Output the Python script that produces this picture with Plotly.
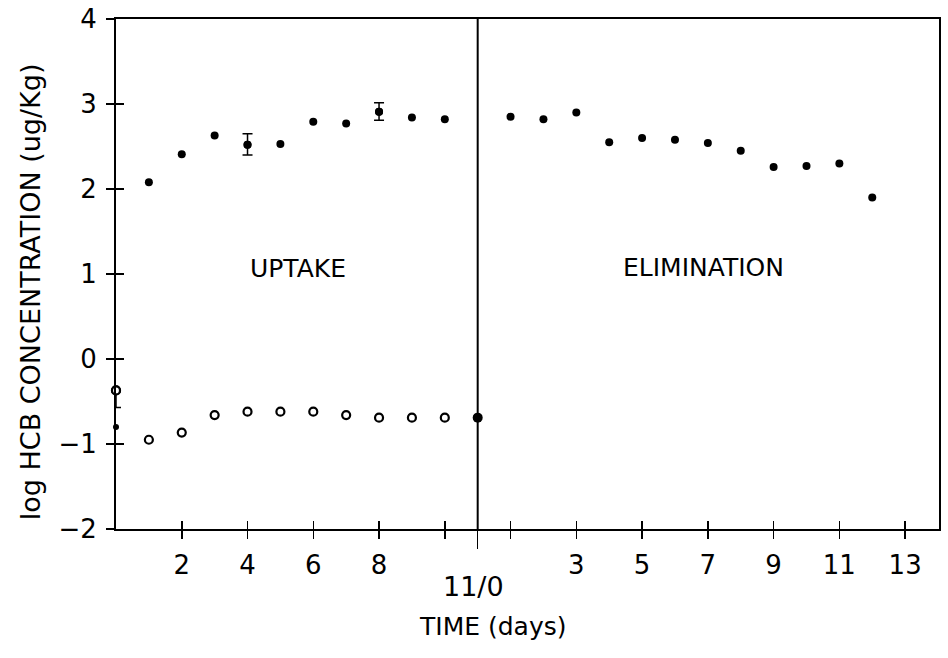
import plotly.graph_objects as go

# ---------------- data ----------------
UPTAKE_DAYS = 11  # length of uptake phase (elimination day 0 == uptake day 11)

uptake_days = [0, 1, 2, 3, 4, 5, 6, 7, 8, 9, 10]
fish_uptake = [-0.80, 2.08, 2.41, 2.63, 2.52, 2.53, 2.79, 2.77, 2.91, 2.84, 2.82]
fish_uptake_err_plus = [None, None, None, None, 0.13, None, None, None, 0.105, None, None]
fish_uptake_err_minus = [None, None, None, None, 0.12, None, None, None, 0.10, None, None]

water_days = [0, 1, 2, 3, 4, 5, 6, 7, 8, 9, 10]
water_conc = [-0.37, -0.95, -0.865, -0.66, -0.62, -0.62, -0.62, -0.66, -0.69, -0.69, -0.69]
water_err_plus = [0, None, None, None, None, None, None, None, None, None, None]
water_err_minus = [0.20, None, None, None, None, None, None, None, None, None, None]

switch_day = [11]
switch_conc = [-0.69]

elim_days = [1, 2, 3, 4, 5, 6, 7, 8, 9, 10, 11, 12]
fish_elim = [2.85, 2.82, 2.90, 2.55, 2.60, 2.58, 2.54, 2.45, 2.26, 2.27, 2.30, 1.90]

x_tickvals = [2, 4, 6, 8, 10, 11, 12, 14, 16, 18, 20, 22, 24]
x_ticktext = ["2", "4", "6", "8", "", "", "", "3", "5", "7", "9", "11", "13"]
y_tickvals = [-2, -1, 0, 1, 2, 3, 4]
y_ticktext = ["\u22122", "\u22121", "0", "1", "2", "3", "4"]

X_RANGE = [0, 25.03]
Y_RANGE = [-2, 4]

FONT = "DejaVu Sans"


def with_errors(xs, ys, plus, minus):
    idx = [i for i in range(len(xs)) if plus[i] is not None or minus[i] is not None]
    return ([xs[i] for i in idx], [ys[i] for i in idx],
            [plus[i] or 0 for i in idx], [minus[i] or 0 for i in idx])


# ---------------- figure ----------------
fig = go.Figure()

err_style = dict(type="data", symmetric=False, color="black", thickness=1.5, width=5)
filled = dict(color="black", size=8, line=dict(width=0))
opened = dict(color="white", size=8, line=dict(color="black", width=2.2))

# error bars (drawn first, beneath markers)
ex, ey, ep, em = with_errors(uptake_days, fish_uptake, fish_uptake_err_plus, fish_uptake_err_minus)
fig.add_trace(go.Scatter(
    x=ex, y=ey, mode="markers", marker=filled,
    error_y=dict(array=ep, arrayminus=em, **err_style),
    cliponaxis=False, showlegend=False,
))
wx, wy, wp, wm = with_errors(water_days, water_conc, water_err_plus, water_err_minus)
fig.add_trace(go.Scatter(
    x=wx, y=wy, mode="markers", marker=opened,
    error_y=dict(array=wp, arrayminus=wm, **err_style),
    cliponaxis=False, showlegend=False,
))

# day-0 fish value (small dot on the axis) and the rest of the uptake phase
fig.add_trace(go.Scatter(
    x=uptake_days[:1], y=fish_uptake[:1], mode="markers",
    marker=dict(color="black", size=6, line=dict(width=0)),
    cliponaxis=False, showlegend=False,
))
fig.add_trace(go.Scatter(
    x=uptake_days[1:], y=fish_uptake[1:], mode="markers", marker=filled,
    cliponaxis=False, showlegend=False,
))

fig.add_trace(go.Scatter(
    x=water_days, y=water_conc, mode="markers", marker=opened,
    cliponaxis=False, showlegend=False,
))

fig.add_trace(go.Scatter(
    x=switch_day, y=switch_conc, mode="markers",
    marker=dict(color="black", size=10, line=dict(width=0)),
    cliponaxis=False, showlegend=False,
))

fig.add_trace(go.Scatter(
    x=[d + UPTAKE_DAYS for d in elim_days], y=fish_elim, mode="markers", marker=filled,
    cliponaxis=False, showlegend=False,
))

# empty traces to instantiate overlay tick axes
fig.add_trace(go.Scatter(x=[], y=[], xaxis="x2", yaxis="y", showlegend=False))
fig.add_trace(go.Scatter(x=[], y=[], xaxis="x3", yaxis="y", showlegend=False))
fig.add_trace(go.Scatter(x=[], y=[], xaxis="x", yaxis="y2", showlegend=False))

# divider between uptake and elimination phases
fig.add_shape(type="line", xref="x", yref="y",
              x0=UPTAKE_DAYS, x1=UPTAKE_DAYS, y0=Y_RANGE[0], y1=Y_RANGE[1],
              line=dict(color="black", width=2))

tick_font = dict(family=FONT, size=26, color="black")
common = dict(showgrid=False, zeroline=False, automargin=False)

fig.update_layout(
    template="none",
    width=948, height=658,
    margin=dict(l=116, r=9, t=19, b=129),
    paper_bgcolor="white", plot_bgcolor="white",
    font=dict(family=FONT, color="black"),
    showlegend=False,
    hovermode=False,
    xaxis=dict(
        range=X_RANGE, **common,
        showline=True, linecolor="black", linewidth=2, mirror=True,
        ticks="outside", ticklen=8, tickwidth=1.5, tickcolor="black",
        tickmode="array", tickvals=x_tickvals, ticktext=x_ticktext,
        tickfont=tick_font, ticklabelstandoff=4, ticklabeloverflow="allow",
    ),
    xaxis2=dict(
        range=X_RANGE, overlaying="x", anchor="y", side="bottom", **common,
        showline=False,
        ticks="inside", ticklen=8, tickwidth=1.5, tickcolor="black",
        tickmode="array", tickvals=x_tickvals, showticklabels=False,
    ),
    xaxis3=dict(
        range=X_RANGE, overlaying="x", anchor="y", side="bottom", **common,
        showline=False,
        ticks="outside", ticklen=19, tickwidth=1.5, tickcolor="black",
        tickmode="array", tickvals=[UPTAKE_DAYS], showticklabels=False,
    ),
    yaxis=dict(
        range=Y_RANGE, **common,
        showline=True, linecolor="black", linewidth=2, mirror=True,
        ticks="outside", ticklen=8, tickwidth=1.5, tickcolor="black",
        tickmode="array", tickvals=y_tickvals, ticktext=y_ticktext,
        tickfont=tick_font, ticklabelstandoff=4, ticklabeloverflow="allow",
    ),
    yaxis2=dict(
        range=Y_RANGE, overlaying="y", anchor="x", side="left", **common,
        showline=False,
        ticks="inside", ticklen=8, tickwidth=1.5, tickcolor="black",
        tickmode="array", tickvals=y_tickvals, showticklabels=False,
    ),
)

ann_font = dict(family=FONT, size=25, color="black")
fig.add_annotation(x=5.52, y=1.06, xref="x", yref="y", text="UPTAKE",
                   showarrow=False, font=ann_font)
fig.add_annotation(x=17.88, y=1.08, xref="x", yref="y", text="ELIMINATION",
                   showarrow=False, font=ann_font)
fig.add_annotation(x=UPTAKE_DAYS, y=-0.112, xref="x", yref="paper", text="11/0",
                   xshift=-4, showarrow=False, yanchor="middle",
                   font=dict(family=FONT, size=27, color="black"))
fig.add_annotation(x=0.4575, y=-0.192, xref="paper", yref="paper", text="TIME (days)",
                   showarrow=False, yanchor="middle",
                   font=dict(family=FONT, size=25, color="black"))
fig.add_annotation(x=-0.104, y=0.465, xref="paper", yref="paper",
                   text="log HCB CONCENTRATION (ug/Kg)", textangle=-90,
                   showarrow=False, xanchor="center", yanchor="middle",
                   font=dict(family=FONT, size=27, color="black"))

# remove the browser's default 8px body margin so the figure fills the window exactly
fig.write_html("out.html", config={"displayModeBar": False, "staticPlot": True},
               post_script="document.body.style.margin='0';")
